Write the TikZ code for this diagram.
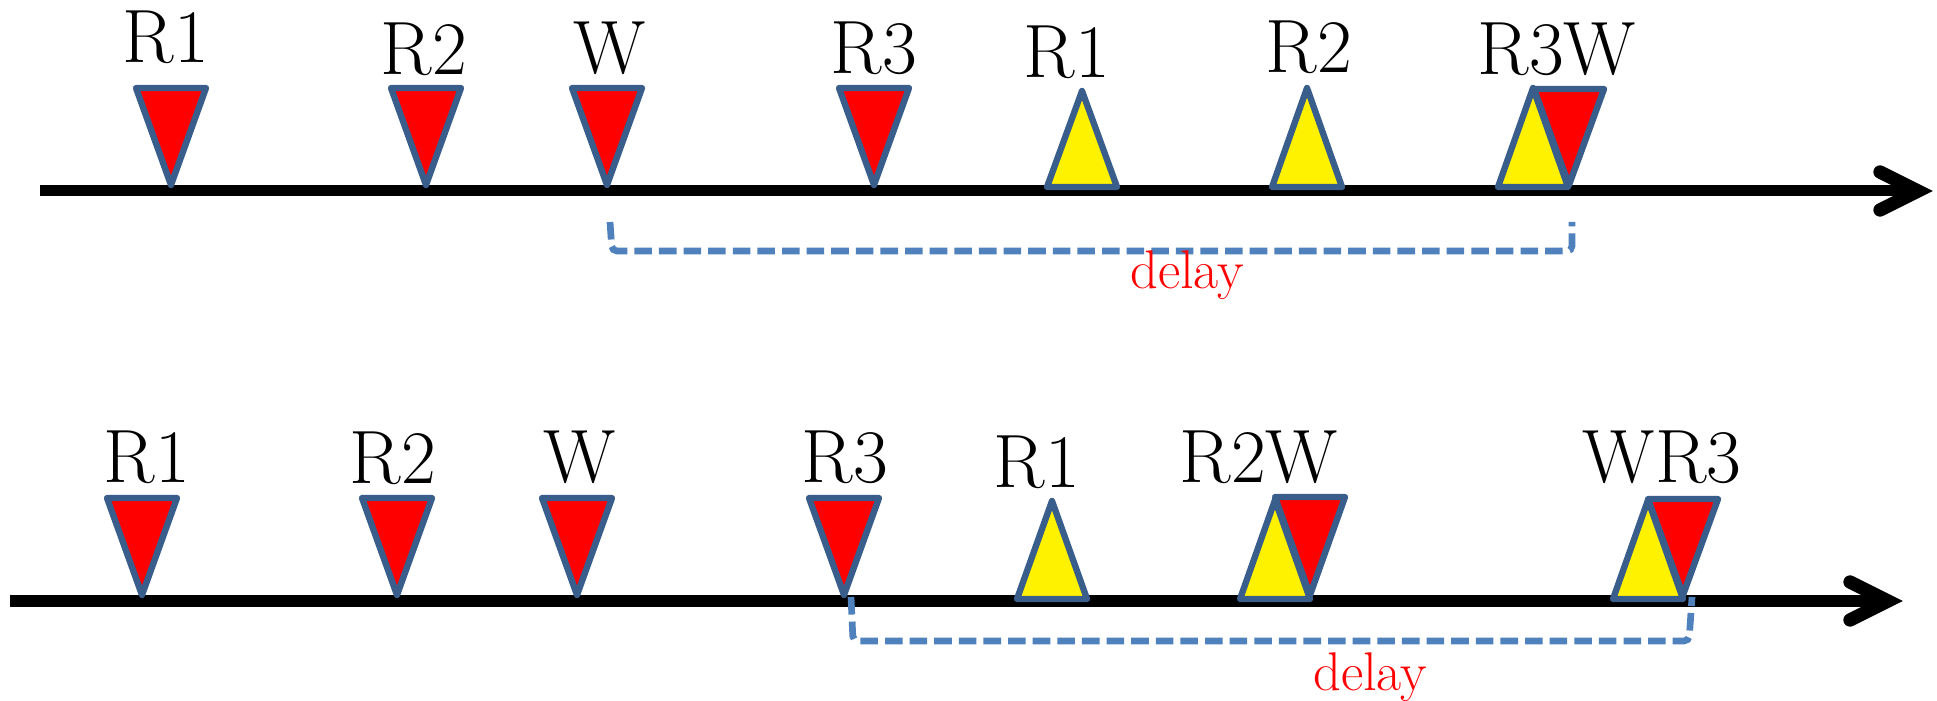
\documentclass[tikz,border=0pt]{standalone}
\usetikzlibrary{calc}
\definecolor{triedge}{HTML}{3A5E8C}
\definecolor{delayblue}{HTML}{4F81BD}
\tikzset{
  axis/.style={line width=3.13pt, draw=black},
  chevron/.style={line width=3.8pt, draw=black, line cap=round, line join=miter},
  evr/.style={fill=red, draw=triedge, line width=1.8pt, line join=round},
  evy/.style={fill=yellow, draw=triedge, line width=1.8pt, line join=round},
  lbl/.style={anchor=base, inner sep=0pt, font=\fontsize{21.5}{25}\selectfont},
  delaytxt/.style={anchor=base, inner sep=0pt, text=red, font=\fontsize{15.5}{18}\selectfont},
  bracket/.style={draw=delayblue, line width=1.9pt, dash pattern=on 5pt off 2pt, rounded corners=1.4pt},
}
% red event: downward triangle (centre x, top edge y, apex y)
\newcommand{\rtri}[3]{\path[evr] (#1-35,#2) -- (#1+35,#2) -- (#1,#3) -- cycle;}
% yellow event: upward triangle (centre x, base y, apex y)
\newcommand{\ytri}[3]{\path[evy] (#1-35,#2) -- (#1+35,#2) -- (#1,#3) -- cycle;}
\begin{document}
\begin{tikzpicture}[x=0.01cm, y=-0.01cm]
\useasboundingbox (0,0) rectangle (1937,701);
\fill[white] (0,0) rectangle (1937,701);

% ---------- upper time line ----------
\coordinate (a1s) at (40,191);
\coordinate (a1e) at (1918,191);
\draw[axis] (a1s) -- (a1e);
\draw[chevron] ($(a1e)+(-38,-19)$) -- (a1e) -- ($(a1e)+(-38,19)$);

\coordinate (d1a) at (610,222);
\coordinate (d1b) at (1572,222);
\draw[bracket] (d1a) -- ($(d1a)+(2,29)$) -- ($(d1b)+(0,29)$) -- (d1b);
\node[delaytxt] (delay1) at (1187,289) {delay};

\rtri{171}{88}{185}
\rtri{426}{88}{185}
\rtri{607}{88}{185}
\rtri{874}{88}{185}
\ytri{1082}{187}{91}
\ytri{1307}{187}{88}
\ytri{1533}{187}{88}
\rtri{1569}{89}{185}

\node[lbl] (t1) at (166,63) {R1};
\node[lbl] (t2) at (424,75) {R2};
\node[lbl] (t3) at (610,74) {W};
\node[lbl] (t4) at (874,74) {R3};
\node[lbl] (t5) at (1067,78) {R1};
\node[lbl] (t6) at (1309,73) {R2};
\node[lbl] (t7) at (1557,75) {R3W};

% ---------- lower time line ----------
\coordinate (a2s) at (10,601);
\coordinate (a2e) at (1888,601);
\draw[axis] (a2s) -- (a2e);
\draw[chevron] ($(a2e)+(-38,-19)$) -- (a2e) -- ($(a2e)+(-38,19)$);

\coordinate (d2a) at (851,597);
\coordinate (d2b) at (1692,597);
\draw[bracket] (d2a) -- ($(d2a)+(2,44)$) -- ($(d2b)+(-3,44)$) -- (d2b);
\node[delaytxt] (delay2) at (1370,691) {delay};

\rtri{142}{498}{595}
\rtri{397}{498}{595}
\rtri{577}{498}{595}
\rtri{844}{498}{595}
\ytri{1052}{599}{501}
\ytri{1275}{599}{500}
\rtri{1310}{497}{595}
\ytri{1648}{599}{500}
\rtri{1683}{499}{595}

\node[lbl] (b1) at (147,483) {R1};
\node[lbl] (b2) at (393,484) {R2};
\node[lbl] (b3) at (580,483) {W};
\node[lbl] (b4) at (845,483) {R3};
\node[lbl] (b5) at (1037,488) {R1};
\node[lbl] (b6) at (1259,483) {R2W};
\node[lbl] (b7) at (1662,483) {WR3};
\end{tikzpicture}
\end{document}
